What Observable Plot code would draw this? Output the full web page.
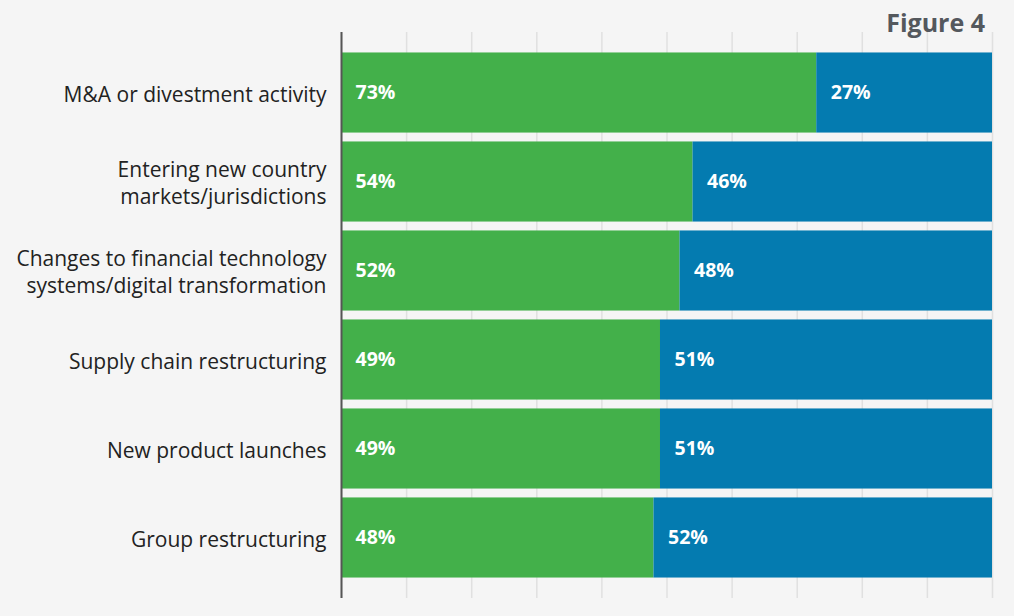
<!DOCTYPE html>
<html>
<head>
<meta charset="utf-8">
<script src="https://cdn.jsdelivr.net/npm/d3@7"></script>
<script src="https://cdn.jsdelivr.net/npm/@observablehq/plot@0.6"></script>
<style>
  html, body { margin: 0; padding: 0; background: #f5f5f5; }
  #wrap { position: relative; width: 1014px; height: 616px; }
  #title { position: absolute; right: 29px; top: 5px; font-family: "Open Sans", sans-serif; font-weight: bold; font-size: 25px; color: #54585d; }
</style>
</head>
<body>
<div id="wrap"><div id="title">Figure 4</div></div>
<script>
const categories = [
  "M&A or divestment activity",
  "Entering new country\nmarkets/jurisdictions",
  "Changes to financial technology\nsystems/digital transformation",
  "Supply chain restructuring",
  "New product launches",
  "Group restructuring"
];
const firstValues = [73, 54, 52, 49, 49, 48];
const secondValues = [27, 46, 48, 51, 51, 52];
const seriesNames = ["first", "second"];
const seriesColors = ["#43b04a", "#047bb0"];
const xTicks = [0, 10, 20, 30, 40, 50, 60, 70, 80, 90, 100];

const data = [
  ...categories.map((c, i) => ({category: c, series: "first", value: firstValues[i]})),
  ...categories.map((c, i) => ({category: c, series: "second", value: secondValues[i]}))
];

const chart = Plot.plot({
  width: 1014,
  height: 616,
  marginLeft: 341,
  marginRight: 22,
  marginTop: 32,
  marginBottom: 18,
  style: {fontFamily: "Open Sans, sans-serif", fontSize: "21px", background: "#f5f5f5", color: "#222"},
  x: {domain: [0, 100], axis: null},
  y: {domain: categories, paddingInner: 0.1, paddingOuter: 0.23, round: false, label: null},
  color: {type: "ordinal", domain: seriesNames, range: seriesColors},
  marks: [
    Plot.ruleX(xTicks, {stroke: "#e0e0e0", strokeWidth: 1.5}),
    Plot.barX(data, Plot.stackX({x: "value", y: "category", fill: "series", z: "series"})),
    Plot.text(data, Plot.stackX1({x: "value", y: "category", z: "series", text: d => d.value + "%", textAnchor: "start", dx: 14, fill: "white", fontWeight: "bold", fontSize: 19.5})),
    Plot.ruleX([0], {stroke: "#555", strokeWidth: 2}),
    Plot.axisY({tickSize: 0, tickPadding: 15, fontSize: 21, lineHeight: 1.3, fill: "#222", label: null})
  ]
});
document.getElementById("wrap").prepend(chart);
</script>
</body>
</html>
